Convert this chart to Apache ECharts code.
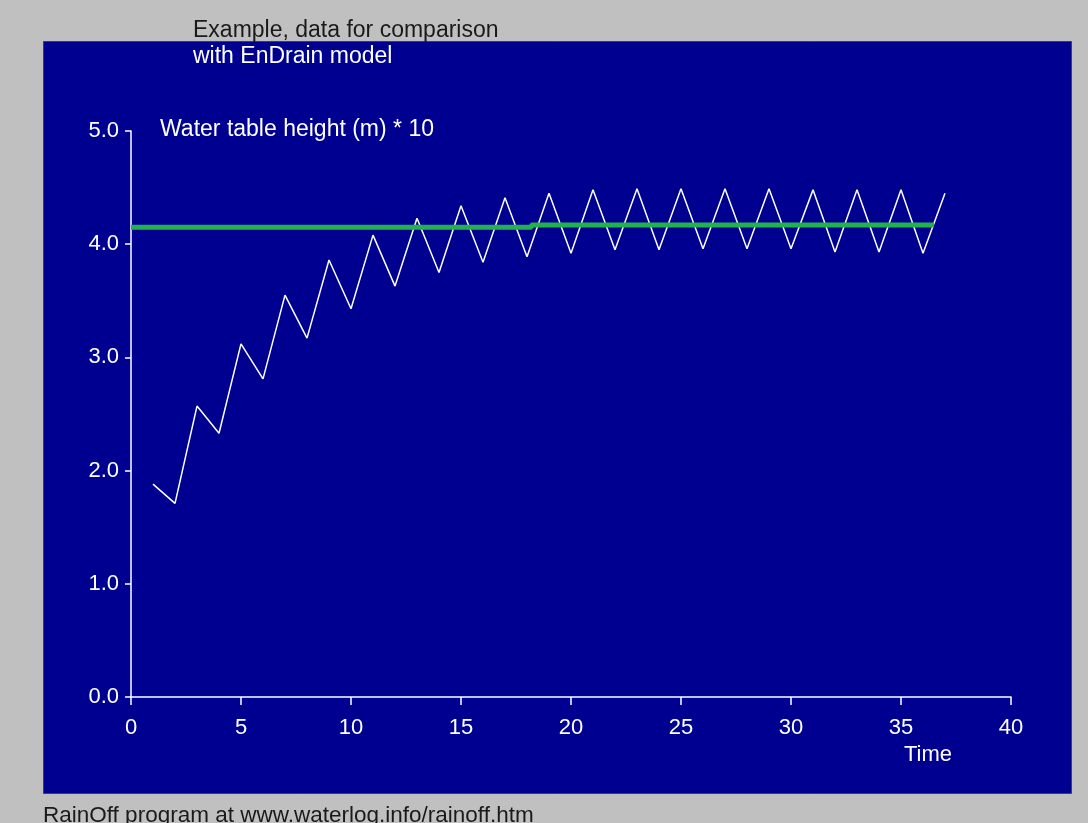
<!DOCTYPE html>
<html><head><meta charset="utf-8">
<script src="https://cdn.jsdelivr.net/npm/echarts@6/dist/echarts.min.js"></script>
<style>html,body{margin:0;padding:0;background:#c0c0c0;} #c{width:1088px;height:823px;}</style>
</head><body><div id="c"></div>
<script>
// Data
const times = [1,2,3,4,5,6,7,8,9,10,11,12,13,14,15,16,17,18,19,20,21,22,23,24,25,26,27,28,29,30,31,32,33,34,35,36,37];
const waterTable = [1.88,1.71,2.57,2.33,3.12,2.81,3.55,3.17,3.86,3.43,4.08,3.63,4.23,3.75,4.34,3.84,4.41,3.89,4.45,3.92,4.48,3.95,4.49,3.95,4.49,3.96,4.49,3.96,4.49,3.96,4.48,3.93,4.48,3.93,4.48,3.92,4.45];
const modelTimes = [0, 18.2, 18.2, 36.5];
const modelValues = [4.15, 4.15, 4.17, 4.17];
const titleLine1 = 'Example, data for comparison';
const titleLine2 = 'with EnDrain model';
const yTitle = 'Water table height (m) * 10';
const xTitle = 'Time';
const footer = 'RainOff program at www.waterlog.info/rainoff.htm';

const FONT = 'Arial, "Liberation Sans", sans-serif';
const chart = echarts.init(document.getElementById('c'), null, {renderer: 'canvas'});
const txt = (x, y, text, color, size) => ({
  type: 'text', x: x, y: y, z: 10,
  style: {text: text, fill: color, font: size + 'px ' + FONT, textVerticalAlign: 'middle'}
});
chart.setOption({
  backgroundColor: '#c0c0c0',
  animation: false,
  grid: {left: 131, right: 77, top: 131, bottom: 126},
  xAxis: {
    type: 'value', min: 0, max: 40, interval: 5,
    axisLine: {lineStyle: {color: '#ffffff', width: 1.5}},
    axisTick: {length: 8, lineStyle: {color: '#ffffff', width: 1.5}},
    splitLine: {show: false},
    axisLabel: {color: '#ffffff', fontSize: 22, fontFamily: FONT, margin: 20}
  },
  yAxis: {
    type: 'value', min: 0, max: 5, interval: 1,
    axisLine: {show: true, lineStyle: {color: '#ffffff', width: 1.5}},
    axisTick: {show: true, length: 6, lineStyle: {color: '#ffffff', width: 1.5}},
    splitLine: {show: false},
    axisLabel: {color: '#ffffff', fontSize: 22, fontFamily: FONT, margin: 12,
      formatter: v => v.toFixed(1)}
  },
  graphic: [
    {type: 'rect', left: 43, top: 41, z: -10, silent: true,
     shape: {width: 1028, height: 752},
     style: {fill: '#000090', stroke: '#3535a5', lineWidth: 1}},
    {type: 'group', children: [
      txt(193, 31, titleLine1, '#1a1a1a', 23),
      txt(193, 57, titleLine2, '#ffffff', 23),
      txt(160, 130, yTitle, '#ffffff', 23),
      txt(904, 755, xTitle, '#ffffff', 22),
      txt(43, 816, footer, '#1a1a1a', 22.5)
    ]}
  ],
  series: [
    {type: 'line', data: times.map((t, i) => [t, waterTable[i]]), showSymbol: false,
     lineStyle: {color: '#ffffff', width: 1.5}, z: 3},
    {type: 'line', data: modelTimes.map((t, i) => [t, modelValues[i]]), showSymbol: false,
     lineStyle: {color: '#22b14c', width: 5}, z: 4}
  ]
});
</script></body></html>
